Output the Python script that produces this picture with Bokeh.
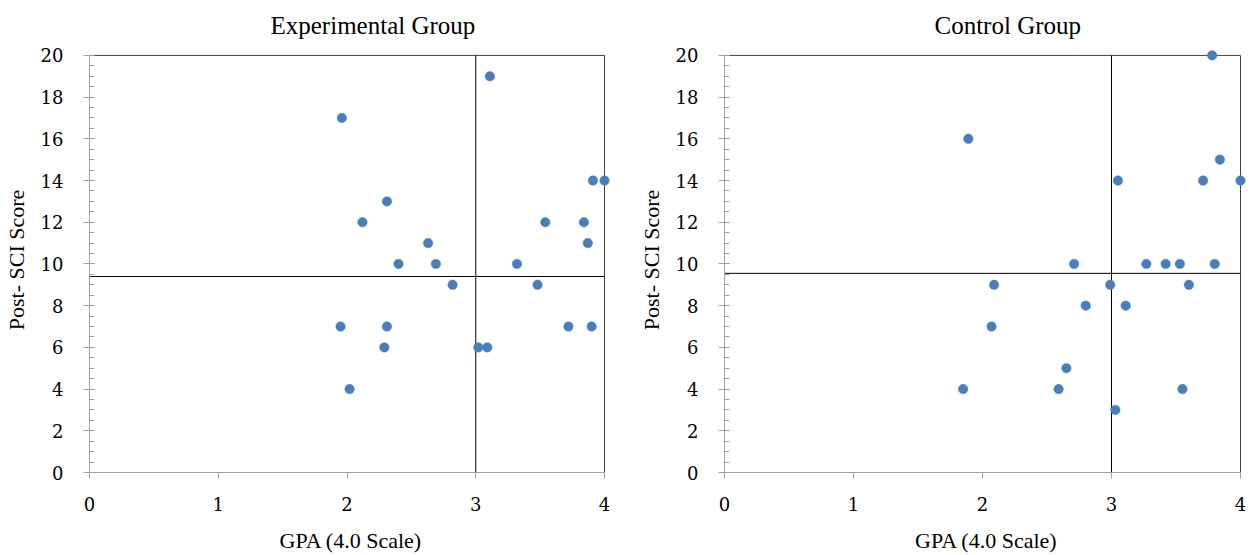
from bokeh.plotting import figure
from bokeh.layouts import row
from bokeh.models import Range1d, SingleIntervalTicker
from bokeh.embed import file_html
from bokeh.resources import INLINE

# ---- data ----
exp_gpa = [1.96, 3.11, 2.12, 2.31, 2.40, 2.63, 2.69, 2.82, 3.32, 3.48, 3.54, 3.84,
           3.87, 3.91, 4.00, 1.95, 2.31, 2.29, 2.02, 3.02, 3.09, 3.72, 3.90]
exp_score = [17, 19, 12, 13, 10, 11, 10, 9, 10, 9, 12, 12,
             11, 14, 14, 7, 7, 6, 4, 6, 6, 7, 7]

ctl_gpa = [3.78, 1.89, 3.84, 3.05, 3.71, 4.00, 2.71, 3.27, 3.42, 3.53, 3.80,
           2.09, 2.99, 3.60, 2.80, 3.11, 2.07, 2.65, 1.85, 2.59, 3.55, 3.03]
ctl_score = [20, 16, 15, 14, 14, 14, 10, 10, 10, 10, 10,
             9, 9, 9, 8, 8, 7, 5, 4, 4, 4, 3]

titles = ["Experimental Group", "Control Group"]
x_label = "GPA (4.0 Scale)"
y_label = "Post- SCI Score"
x_min, x_max = 0, 4
y_min, y_max = 0, 20
x_split = 3
y_split_exp = 9.4
y_split_ctl = 9.55

FONT = "'Liberation Serif', 'Times New Roman', 'DejaVu Serif', serif"
TICK_FONT = "DejaVu Serif"
DOT = "#4a7ebb"
AXIS_GRAY = "#a0a0a0"
BORDER = "#404040"


def make_plot(title, title_offset, xs, ys, y_split, width, border_left, border_right):
    p = figure(width=width, height=555, output_backend="svg", toolbar_location=None,
               x_range=Range1d(x_min, x_max + 0.062), y_range=Range1d(y_min, y_max + 0.38),
               min_border_left=border_left, min_border_right=border_right,
               min_border_top=47, min_border_bottom=60)
    p.outline_line_color = None
    p.xgrid.visible = False
    p.ygrid.visible = False

    p.title.text = title
    p.title.text_font = FONT
    p.title.text_font_size = "25px"
    p.title.text_font_style = "normal"
    p.title.align = "left"
    p.title.offset = title_offset
    p.title.standoff = 18
    p.title.text_color = "#000000"

    # axes
    p.xaxis.ticker = SingleIntervalTicker(interval=1, num_minor_ticks=0)
    p.yaxis.ticker = SingleIntervalTicker(interval=2, num_minor_ticks=4)
    for ax in (p.xaxis, p.yaxis):
        ax.axis_line_color = AXIS_GRAY
        ax.major_tick_line_color = AXIS_GRAY
        ax.minor_tick_line_color = AXIS_GRAY
        ax.major_label_text_font = TICK_FONT
        ax.major_label_text_font_style = "normal"
        ax.major_label_text_font_size = "18px"
        ax.major_label_text_color = "#000000"
        ax.axis_label_text_font = FONT
        ax.axis_label_text_font_size = "22px"
        ax.axis_label_text_font_style = "normal"
        ax.axis_label_text_color = "#000000"
    p.xaxis.bounds = (x_min, x_max)
    p.yaxis.bounds = (y_min, y_max)
    p.xaxis.major_tick_out = 6
    p.xaxis.major_tick_in = 0
    p.xaxis.minor_tick_out = 0
    p.xaxis.minor_tick_in = 0
    p.yaxis.major_tick_out = 6
    p.yaxis.major_tick_in = 5
    p.yaxis.minor_tick_out = 0
    p.yaxis.minor_tick_in = 5
    p.xaxis.major_label_standoff = 18
    p.yaxis.major_label_standoff = 20
    p.xaxis.axis_label = x_label
    p.yaxis.axis_label = y_label
    p.xaxis.axis_label_standoff = 14
    p.yaxis.axis_label_standoff = 9

    # top and right border of plot area
    p.line(x=[x_min, x_max, x_max], y=[y_max, y_max, y_min], line_color=BORDER, line_width=1)
    # quadrant lines
    p.segment(x0=[x_split, x_min], y0=[y_min, y_split], x1=[x_split, x_max], y1=[y_max, y_split],
              line_color="#000000", line_width=1)

    p.scatter(xs, ys, size=9.5, fill_color=DOT, line_color=DOT, line_width=0.5)
    return p


p1 = make_plot(titles[0], 181, exp_gpa, exp_score, y_split_exp, 632, 88, 20)
p2 = make_plot(titles[1], 210, ctl_gpa, ctl_score, y_split_ctl, 618, 92, 2)

layout = row(p1, p2)
open("out.html", "w").write(file_html(layout, INLINE))
